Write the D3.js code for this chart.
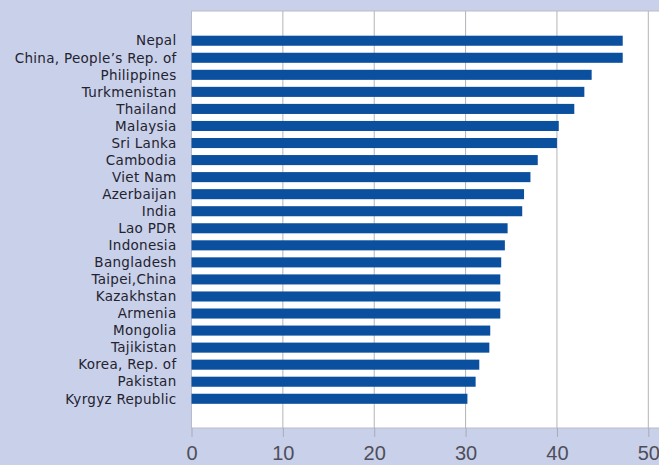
<!DOCTYPE html>
<html>
<head>
<meta charset="utf-8">
<script src="https://cdn.jsdelivr.net/npm/d3@7"></script>
<style>
  html, body { margin: 0; padding: 0; background: #c9d0e9; }
  svg { display: block; }
</style>
</head>
<body>
<svg id="chart" width="659" height="465"></svg>
<script>
const categories = ["Nepal", "China, People\u2019s Rep. of", "Philippines", "Turkmenistan", "Thailand",
  "Malaysia", "Sri Lanka", "Cambodia", "Viet Nam", "Azerbaijan", "India", "Lao PDR", "Indonesia",
  "Bangladesh", "Taipei,China", "Kazakhstan", "Armenia", "Mongolia", "Tajikistan", "Korea, Rep. of",
  "Pakistan", "Kyrgyz Republic"];
const values = [47.2, 47.2, 43.8, 43.0, 41.9, 40.2, 40.0, 37.9, 37.1, 36.4, 36.2, 34.6, 34.3,
  33.9, 33.8, 33.8, 33.8, 32.7, 32.6, 31.5, 31.1, 30.2];
const tickValues = [0, 10, 20, 30, 40, 50];

const svg = d3.select("#chart");
const W = 659, H = 465;
const plot = { left: 191.5, top: 11, bottom: 428 };

const x = d3.scaleLinear().domain([0, 52]).range([plot.left, plot.left + 52 * 9.136]);
const y = d3.scaleBand().domain(categories).range([32.2, 407.3]).paddingInner(0.41).paddingOuter(0.205);

// plot background
svg.append("rect")
  .attr("x", plot.left).attr("y", plot.top)
  .attr("width", W - plot.left + 2).attr("height", plot.bottom - plot.top)
  .attr("fill", "#ffffff").attr("stroke", "#b9bcc8").attr("stroke-width", 1);

// gridlines
svg.append("g").selectAll("line").data(tickValues.slice(1)).join("line")
  .attr("x1", d => x(d)).attr("x2", d => x(d))
  .attr("y1", plot.top).attr("y2", plot.bottom)
  .attr("stroke", "#b4b4b8").attr("stroke-width", 1);

// x axis
const xAxis = d3.axisBottom(x).tickValues(tickValues).tickSize(9).tickPadding(9).tickFormat(d3.format("d"));
const gx = svg.append("g").attr("transform", `translate(0,${plot.bottom})`).call(xAxis);
gx.select(".domain").remove();
gx.selectAll(".tick line").attr("stroke", "#a8abb8");
gx.selectAll(".tick text")
  .attr("fill", "#4e4e5a")
  .attr("font-family", "'Liberation Sans', Arial, sans-serif")
  .attr("font-size", "20px");

// bars
svg.append("g").selectAll("rect").data(categories).join("rect")
  .attr("x", x(0))
  .attr("y", d => y(d))
  .attr("width", (d, i) => x(values[i]) - x(0))
  .attr("height", y.bandwidth())
  .attr("fill", "#0b4f9f");

// category labels
svg.append("g").selectAll("text").data(categories).join("text")
  .attr("x", 176.5)
  .attr("y", d => y(d) + y.bandwidth() / 2)
  .attr("dy", "0.35em")
  .attr("text-anchor", "end")
  .attr("fill", "#23232f")
  .attr("font-family", "'DejaVu Sans', sans-serif")
  .attr("font-size", "13.5px")
  .attr("letter-spacing", "0.3px")
  .text(d => d);
</script>
</body>
</html>
